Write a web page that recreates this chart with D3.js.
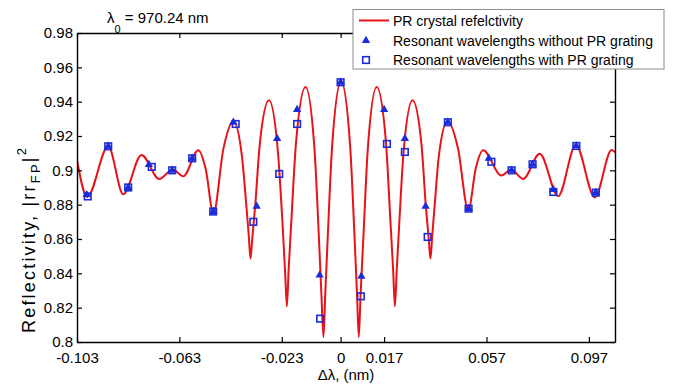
<!DOCTYPE html>
<html>
<head>
<meta charset="utf-8">
<script src="https://cdn.jsdelivr.net/npm/d3@7/dist/d3.min.js"></script>
<style>
  body { margin: 0; background: #fff; }
  svg { font-family: Arial, "Liberation Sans", sans-serif; }
</style>
</head>
<body>
<div id="chart"></div>
<script>
// PR crystal reflectivity curve
const curveX = [
  -0.1030, -0.0990, -0.0908, -0.0849, -0.0778, -0.0709, -0.0655, -0.0615, -0.0556, -0.0527,
  -0.0497, -0.0458, -0.0419, -0.0386, -0.0369, -0.0359, -0.0352, -0.0345, -0.0334, -0.0316,
  -0.0280, -0.0245, -0.0227, -0.0217, -0.0210, -0.0203, -0.0192, -0.0174, -0.0137, -0.0102,
  -0.0085, -0.0075, -0.0067, -0.0060, -0.0050, -0.0033, 0.0002, 0.0037, 0.0054, 0.0064,
  0.0071, 0.0078, 0.0089, 0.0106, 0.0141, 0.0177, 0.0194, 0.0205, 0.0212, 0.0219,
  0.0229, 0.0246, 0.0281, 0.0316, 0.0333, 0.0344, 0.0351, 0.0358, 0.0368, 0.0384,
  0.0418, 0.0458, 0.0499, 0.0528, 0.0557, 0.0628, 0.0666, 0.0713, 0.0778, 0.0850,
  0.0919, 0.0993, 0.1059, 0.1072
];
const curveY = [
  0.9060, 0.8845, 0.9140, 0.8860, 0.9090, 0.8950, 0.9005, 0.8965, 0.9117, 0.9006,
  0.8748, 0.9125, 0.9287, 0.9087, 0.8806, 0.8622, 0.8486, 0.8606, 0.8790, 0.9150,
  0.9408, 0.9108, 0.8688, 0.8412, 0.8208, 0.8425, 0.8719, 0.9166, 0.9485, 0.9121,
  0.8611, 0.8277, 0.8029, 0.8282, 0.8624, 0.9145, 0.9517, 0.9145, 0.8624, 0.8282,
  0.8029, 0.8277, 0.8611, 0.9121, 0.9485, 0.9166, 0.8719, 0.8425, 0.8208, 0.8412,
  0.8688, 0.9108, 0.9408, 0.9150, 0.8790, 0.8606, 0.8486, 0.8622, 0.8806, 0.9087,
  0.9287, 0.9131, 0.8767, 0.9012, 0.9117, 0.8970, 0.9005, 0.8950, 0.9097, 0.8850,
  0.9148, 0.8842, 0.9118, 0.9105
];

// Resonant wavelengths without PR grating (triangles)
const triX = [
  -0.0992, -0.0908, -0.0830, -0.0749, -0.0658, -0.0580, -0.0498, -0.0419, -0.0328, -0.0248,
  -0.0170, -0.0082, 0.0000, 0.0081, 0.0170, 0.0251, 0.0332, 0.0419, 0.0500, 0.0579,
  0.0668, 0.0750, 0.0831, 0.0921, 0.0997
];
const triY = [
  0.8858, 0.9140, 0.8900, 0.9033, 0.9000, 0.9070, 0.8760, 0.9280, 0.8790, 0.9185,
  0.9354, 0.8389, 0.9513, 0.8383, 0.9354, 0.9185, 0.8790, 0.9280, 0.8777, 0.9070,
  0.9000, 0.9035, 0.8888, 0.9142, 0.8870
];

// Resonant wavelengths with PR grating (squares)
const sqX = [
  -0.0988, -0.0908, -0.0830, -0.0738, -0.0658, -0.0580, -0.0498, -0.0410, -0.0341, -0.0240,
  -0.0170, -0.0080, 0.0000, 0.0079, 0.0181, 0.0251, 0.0340, 0.0419, 0.0500, 0.0589,
  0.0668, 0.0750, 0.0831, 0.0921, 0.0997
];
const sqY = [
  0.8848, 0.9140, 0.8900, 0.9020, 0.9000, 0.9070, 0.8760, 0.9270, 0.8700, 0.8979,
  0.9270, 0.8136, 0.9513, 0.8266, 0.9154, 0.9107, 0.8612, 0.9280, 0.8777, 0.9050,
  0.9000, 0.9035, 0.8874, 0.9142, 0.8870
];

const xTicks = [-0.103, -0.063, -0.023, 0, 0.017, 0.057, 0.097];
const xTickLabels = ['-0.103', '-0.063', '-0.023', '0', '0.017', '0.057', '0.097'];
const yTicks = [0.80, 0.82, 0.84, 0.86, 0.88, 0.90, 0.92, 0.94, 0.96, 0.98];
const yTickLabels = ['0.8', '0.82', '0.84', '0.86', '0.88', '0.9', '0.92', '0.94', '0.96', '0.98'];
const legendLabels = [
  'PR crystal refelctivity',
  'Resonant wavelengths without PR grating',
  'Resonant wavelengths with PR grating'
];

const width = 673;
const height = 384;
const margin = { top: 33, right: 58, bottom: 42, left: 77 };
const chartWidth = width - margin.left - margin.right;
const chartHeight = height - margin.top - margin.bottom;

const lineColor = '#e8121a';
const markColor = '#1b2bd8';

const svg = d3.select('#chart').append('svg')
    .attr('width', width)
    .attr('height', height);

const g = svg.append('g')
    .attr('transform', `translate(${margin.left},${margin.top})`);

// Scales
const xScale = d3.scaleLinear()
    .domain([-0.103, 0.1072])
    .range([0, chartWidth]);

const yScale = d3.scaleLinear()
    .domain([0.8, 0.98])
    .range([chartHeight, 0]);

// Clip for the curve
svg.append('defs').append('clipPath')
    .attr('id', 'plot-clip')
    .append('rect')
    .attr('width', chartWidth)
    .attr('height', chartHeight);

// Reflectivity curve
const line = d3.line()
    .x(i => xScale(curveX[i]))
    .y(i => yScale(curveY[i]))
    .curve(d3.curveMonotoneX);

g.append('path')
    .datum(d3.range(curveX.length))
    .attr('clip-path', 'url(#plot-clip)')
    .attr('d', line)
    .attr('fill', 'none')
    .attr('stroke', lineColor)
    .attr('stroke-width', 2);

// Triangles
const tri = d3.symbol(d3.symbolTriangle, 30);
g.selectAll('path.tri')
    .data(d3.range(triX.length))
    .enter()
    .append('path')
    .attr('class', 'tri')
    .attr('d', tri)
    .attr('transform', i => `translate(${xScale(triX[i])},${yScale(triY[i])})`)
    .attr('fill', markColor);

// Squares
g.selectAll('rect.sq')
    .data(d3.range(sqX.length))
    .enter()
    .append('rect')
    .attr('class', 'sq')
    .attr('x', i => xScale(sqX[i]) - 3.3)
    .attr('y', i => yScale(sqY[i]) - 3.3)
    .attr('width', 6.6)
    .attr('height', 6.6)
    .attr('fill', 'none')
    .attr('stroke', markColor)
    .attr('stroke-width', 1.6);

// Axes (ticks inside, box style)
function styleAxis(sel) {
    sel.attr('font-family', null).attr('font-size', 15);
    sel.select('.domain').attr('stroke', '#000').attr('stroke-width', 1.4);
    sel.selectAll('.tick line').attr('stroke', '#000').attr('stroke-width', 1.2);
    sel.selectAll('.tick text').attr('fill', '#000');
}

g.append('g')
    .attr('transform', `translate(0,${chartHeight})`)
    .call(d3.axisBottom(xScale).tickValues(xTicks)
        .tickFormat((d, i) => xTickLabels[i])
        .tickSizeInner(-5).tickSizeOuter(0).tickPadding(10))
    .call(styleAxis);

g.append('g')
    .call(d3.axisTop(xScale).tickValues(xTicks).tickFormat('')
        .tickSizeInner(-5).tickSizeOuter(0))
    .call(styleAxis);

g.append('g')
    .call(d3.axisLeft(yScale).tickValues(yTicks)
        .tickFormat((d, i) => yTickLabels[i])
        .tickSizeInner(-5).tickSizeOuter(0).tickPadding(4))
    .call(styleAxis);

g.append('g')
    .attr('transform', `translate(${chartWidth},0)`)
    .call(d3.axisRight(yScale).tickValues(yTicks).tickFormat('')
        .tickSizeInner(-5).tickSizeOuter(0))
    .call(styleAxis);

// Axis labels
svg.append('text')
    .attr('x', margin.left + chartWidth / 2)
    .attr('y', 380)
    .attr('text-anchor', 'middle')
    .attr('font-size', 15)
    .text('\u0394\u03bb, (nm)');

const yLabel = svg.append('text')
    .attr('transform', 'translate(35,333) rotate(-90)')
    .attr('font-size', 18)
    .attr('letter-spacing', 2.2);
yLabel.append('tspan').text('Reflectivity, |rr');
yLabel.append('tspan').attr('font-size', 13).attr('dy', 5).text('FP');
yLabel.append('tspan').attr('dy', -5).text('|');
yLabel.append('tspan').attr('font-size', 13).attr('dy', -9).text('2');

// Title-like annotation
const title = svg.append('text')
    .attr('x', 107)
    .attr('y', 23)
    .attr('font-size', 15);
title.append('tspan').text('\u03bb');
title.append('tspan').attr('font-size', 11).attr('dy', 10).text('0');
title.append('tspan').attr('dy', -10).text(' = 970.24 nm');

// Legend
const legend = svg.append('g');
legend.append('rect')
    .attr('x', 353)
    .attr('y', 9.5)
    .attr('width', 311)
    .attr('height', 59.5)
    .attr('fill', '#fff')
    .attr('stroke', '#8c8c8c')
    .attr('stroke-width', 1);

const rowY = [20.5, 40.5, 60];
legend.append('line')
    .attr('x1', 359).attr('x2', 389)
    .attr('y1', rowY[0]).attr('y2', rowY[0])
    .attr('stroke', lineColor)
    .attr('stroke-width', 2);
legend.append('path')
    .attr('d', tri)
    .attr('transform', `translate(366,${rowY[1]})`)
    .attr('fill', markColor);
legend.append('rect')
    .attr('x', 366 - 3.3).attr('y', rowY[2] - 3.3)
    .attr('width', 6.6).attr('height', 6.6)
    .attr('fill', 'none')
    .attr('stroke', markColor)
    .attr('stroke-width', 1.6);

legend.selectAll('text')
    .data(legendLabels)
    .enter()
    .append('text')
    .attr('x', 393)
    .attr('y', (d, i) => rowY[i] + 5)
    .attr('font-size', 14)
    .attr('fill', '#000')
    .text(d => d);
</script>
</body>
</html>
